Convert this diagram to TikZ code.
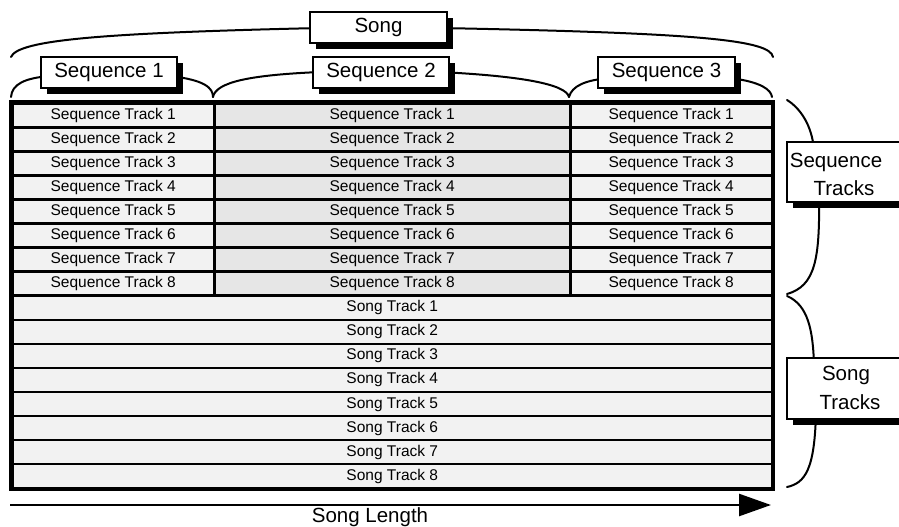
\documentclass[tikz,border=0pt]{standalone}
\usepackage{fontspec}
\setmainfont{Liberation Sans}
\usetikzlibrary{shadows,arrows.meta}
\definecolor{cellA}{HTML}{F2F2F2}
\definecolor{cellB}{HTML}{E6E6E6}
\begin{document}
\begin{tikzpicture}[x=1pt,y=-1pt,
  cell/.style={draw=black, line width=2.5pt, inner sep=0pt, anchor=north west,
    font=\fontsize{15.5}{18}\selectfont, minimum height=24.06pt, fill=cellA},
  labbox/.style={draw=black, line width=2pt, fill=white, inner sep=0pt,
    font=\fontsize{20.5}{24}\selectfont,
    general shadow={fill=black, shadow xshift=6pt, shadow yshift=-6pt}},
  labtext/.style={inner sep=0pt, font=\fontsize{20.5}{24}\selectfont},
  brace/.style={line width=2pt, line cap=round}]
\useasboundingbox (0,0) rectangle (899,527);

% braces (drawn first, boxes cover their middles)
\draw[brace] (11,57) .. controls (18,40) and (100,33) .. (320,28);
\draw[brace] (440,28) .. controls (700,33) and (770,40) .. (773,57);
\draw[brace] (11,97) .. controls (12,84) and (25,78) .. (50,76);
\draw[brace] (170,76) .. controls (205,80) and (213,88) .. (213,97);
\draw[brace] (213,97) .. controls (216,82) and (250,75) .. (320,72);
\draw[brace] (440,72) .. controls (520,76) and (566,84) .. (569,97);
\draw[brace] (569,97) .. controls (572,86) and (585,80) .. (610,78);
\draw[brace] (730,78) .. controls (762,82) and (771,90) .. (772,97);
\draw[brace] (787,100) .. controls (800,108) and (812,125) .. (814,150);
\draw[brace] (819,195) .. controls (820,260) and (815,286) .. (787,294);
\draw[brace] (787,296) .. controls (808,305) and (813,330) .. (814,365);
\draw[brace] (816,410) .. controls (815,470) and (805,483) .. (787,487);

% table
\foreach \i in {1,...,8} {
  \pgfmathsetmacro{\yy}{102+(\i-1)*24.06}
  \node[cell, minimum width=202pt] (sa\i) at (11,\yy) {Sequence Track \i};
  \node[cell, minimum width=356pt, fill=cellB] (sb\i) at (213,\yy) {Sequence Track \i};
  \node[cell, minimum width=202pt] (sc\i) at (569,\yy) {Sequence Track \i};
  \pgfmathsetmacro{\zz}{102+(\i+7)*24.06}
  \node[cell, minimum width=760pt] (st\i) at (11,\zz) {Song Track \i};
}
\draw[line width=3.2pt] (sa1.north west) rectangle (st8.south east);

% label boxes
\node[labbox, minimum width=137pt, minimum height=31pt] (song) at (378.5,27.5) {Song};
\node[labbox, minimum width=136pt, minimum height=31pt] (seq1) at (109,72.5) {Sequence 1};
\node[labbox, minimum width=136pt, minimum height=31pt] (seq2) at (381,72.5) {Sequence 2};
\node[labbox, minimum width=137pt, minimum height=31pt] (seq3) at (666.5,72.5) {Sequence 3};
\node[labbox, minimum width=123pt, minimum height=60pt] (seqtr) at (848.5,172) {};
\node[labbox, minimum width=123pt, minimum height=61pt] (songtr) at (848.5,388.5) {};
\node[labtext] (seqtrA) at (836,162) {Sequence};
\node[labtext] (seqtrB) at (844,188) {Tracks};
\node[labtext] (songtrA) at (846,375) {Song};
\node[labtext] (songtrB) at (850,402) {Tracks};

% song length arrow
\coordinate (arrS) at (10,505);
\coordinate (arrE) at (771,505);
\draw[line width=2.5pt, -{Triangle[length=32pt,width=22pt]}] (arrS) -- (arrE);
\node[labtext] (songlen) at (370,517.5) {Song Length};
\end{tikzpicture}
\end{document}
